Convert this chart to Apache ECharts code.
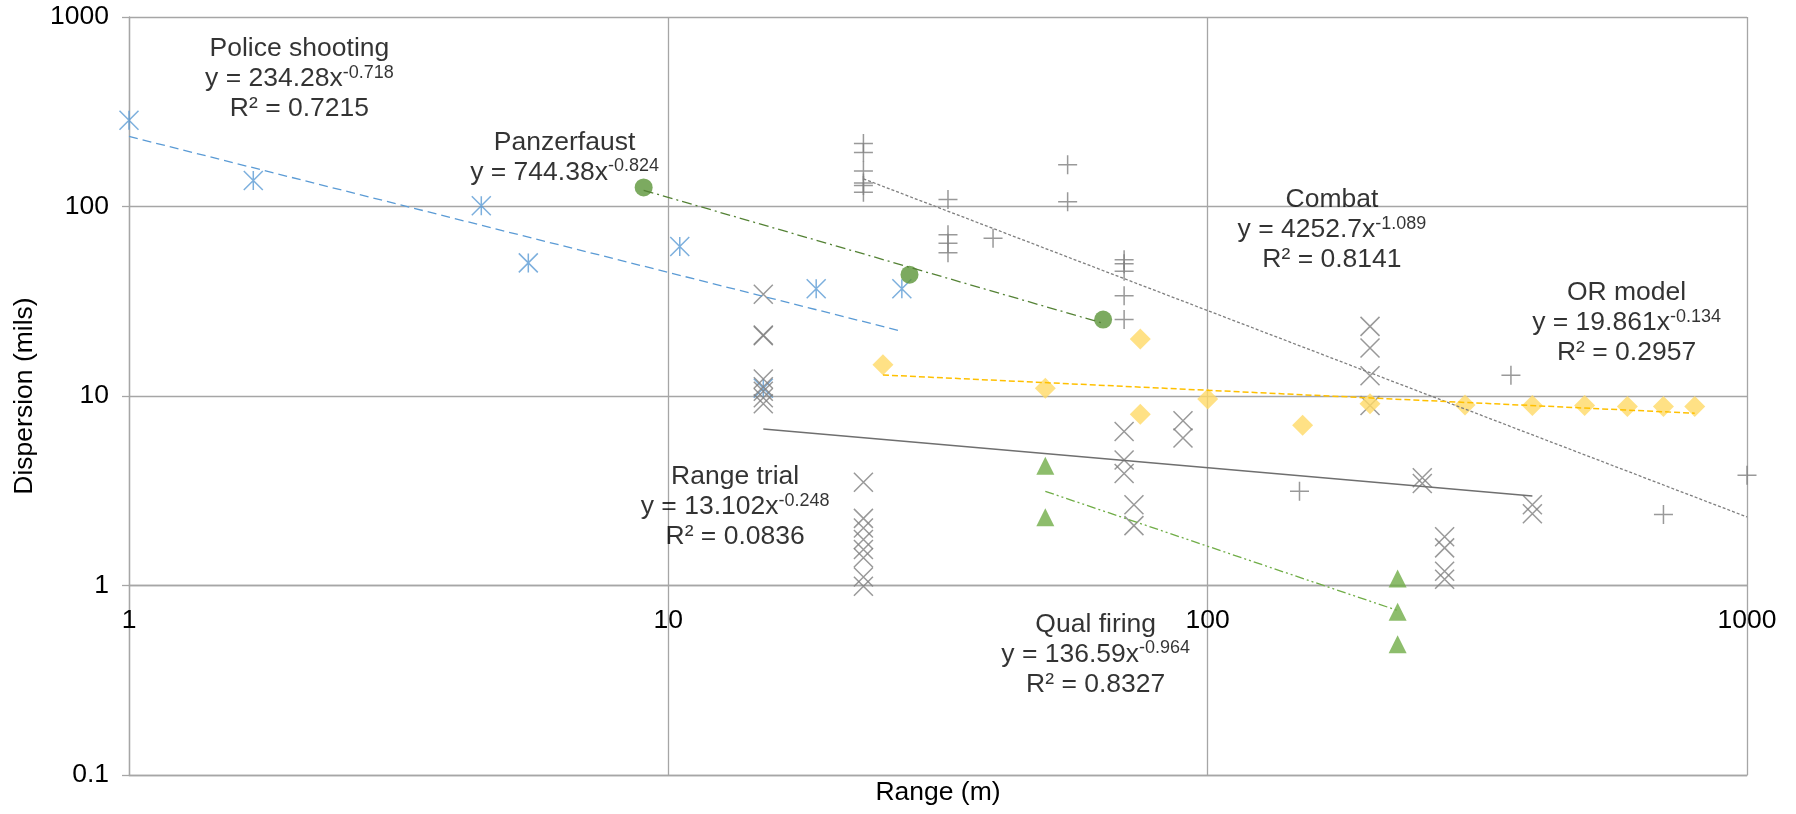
<!DOCTYPE html>
<html>
<head>
<meta charset="utf-8">
<title>Dispersion vs range</title>
<script src="https://cdn.jsdelivr.net/npm/echarts@6/dist/echarts.min.js"></script>
<style>
  html, body { margin: 0; padding: 0; background: #fff; }
  #chart { width: 1796px; height: 814px; }
</style>
</head>
<body>
<div id="chart"></div>
<script>
// tick labels
const xTicks = ['1', '10', '100', '1000'];
const yTicks = ['0.1', '1', '10', '100', '1000'];

// Police shooting
const policeX = [1, 1.7, 4.5, 5.5, 10.5, 15, 18.8, 27.1];
const policeY = [285, 137, 101, 50.4, 61.5, 11.0, 36.8, 36.8];
// Panzerfaust
const panzerX = [9.0, 28, 64];
const panzerY = [126, 43.7, 25.3];
// Combat
const combatX = [23, 23, 23, 23, 23, 23, 33, 33, 33, 33, 40, 55, 55, 70, 70, 70, 70, 70, 148, 365, 700, 1000];
const combatY = [215, 193, 154, 133, 129, 119, 109, 71, 64, 57, 68, 166, 106, 52.4, 49.9, 45.5, 33.8, 25.3, 3.14, 12.85, 2.37, 3.82];
// Range trial
const rangeX = [15, 15, 15, 15, 15, 15, 15, 15,
  23, 23, 23, 23, 23, 23, 23, 23,
  70, 70, 70, 73, 73, 90, 90,
  200, 200, 200, 200, 250, 250,
  275, 275, 275, 275, 400, 400];
const rangeY = [34.4, 20.8, 21.0, 12.3, 11.2, 10.6, 9.8, 9.1,
  3.51, 2.26, 2.01, 1.75, 1.55, 1.40, 1.11, 0.99,
  6.5, 4.6, 3.9, 2.67, 2.07, 7.4, 6.0,
  23.3, 17.9, 12.8, 8.9, 3.7, 3.45,
  1.81, 1.58, 1.19, 1.08, 2.67, 2.39];
// OR model
const orX = [25, 50, 75, 75, 100, 150, 200, 300, 400, 500, 600, 700, 800];
const orY = [14.6, 11.0, 20, 8.0, 9.64, 7.0, 9.1, 8.97, 8.9, 8.9, 8.8, 8.8, 8.8];
// Qual firing
const qualX = [50, 50, 225, 225, 225];
const qualY = [4.28, 2.29, 1.09, 0.727, 0.49];

// trendline end points (x, y) as drawn
const policeTrend = [[1, 234.3], [27.2, 21.9]];
const panzerTrend = [[9.0, 121.8], [64, 24.2]];
const combatTrend = [[23, 139.9], [1000, 2.30]];
const rangeTrend = [[15, 6.70], [400, 2.965]];
const orTrend = [[25, 12.91], [800, 8.11]];
const qualTrend = [[50, 3.14], [225, 0.738]];

// trendline labels
const annoNames = ['Police shooting', 'Panzerfaust', 'Combat', 'OR model', 'Range trial', 'Qual firing'];
const annoCoef = ['234.28', '744.38', '4252.7', '19.861', '13.102', '136.59'];
const annoExp = ['-0.718', '-0.824', '-1.089', '-0.134', '-0.248', '-0.964'];
const annoR2 = ['0.7215', '', '0.8141', '0.2957', '0.0836', '0.8327'];
const annoX = [2.07, 6.42, 170, 598, 13.3, 62];
const annoY = [470, 182, 75.4, 24.3, 2.6, 0.4325];

const FONT = '"Liberation Sans", Arial, sans-serif';
const FS = 26.5;
const GRID_COLOR = '#a6a6a6';
const ASTER = 'path://M0,0L20,20M20,0L0,20M10,0L10,20';
const CROSS = 'path://M0,0L20,20M20,0L0,20';
const PLUS = 'path://M10,0L10,20M0,10L20,10';

const zip = (xs, ys) => xs.map((x, i) => [x, ys[i]]);

const gridTop = 17, gridBottom = 39;
const decadePx = (814 - gridTop - gridBottom) / 4;

function scatter(name, xs, ys, symbol, size, itemStyle) {
  return {
    name, type: 'scatter', data: zip(xs, ys),
    symbol, symbolSize: size, itemStyle, z: 3
  };
}

function trend(name, pts, color, dash, width) {
  return {
    name: name + ' trend', type: 'line', data: pts,
    showSymbol: false, silent: true, z: 4,
    lineStyle: { color, width: width || 1.3, type: dash }
  };
}

const annoData = annoNames.map((n, i) => {
  let txt = '{t|' + n + '}\n{t|y = ' + annoCoef[i] + 'x}{s|' + annoExp[i] + '}';
  if (annoR2[i]) txt += '\n{t|R² = ' + annoR2[i] + '}';
  return { value: [annoX[i], annoY[i]], label: { formatter: txt } };
});

const chart = echarts.init(document.getElementById('chart'));
chart.setOption({
  animation: false,
  backgroundColor: '#fff',
  textStyle: { fontFamily: FONT },
  grid: { left: 129, right: 49, top: gridTop, bottom: gridBottom },
  xAxis: [{
    type: 'log', logBase: 10, min: 1, max: 1000,
    position: 'bottom', offset: -decadePx,
    axisLine: { show: true, lineStyle: { color: GRID_COLOR, width: 1.3 } },
    axisTick: { show: false },
    axisLabel: {
      margin: 22, color: '#000', fontSize: FS, fontFamily: FONT,
      formatter: v => xTicks[Math.round(Math.log10(v))]
    },
    splitLine: { show: true, lineStyle: { color: GRID_COLOR, width: 1.3 } }
  }, {
    type: 'log', logBase: 10, min: 1, max: 1000,
    position: 'bottom',
    name: 'Range (m)', nameLocation: 'middle', nameGap: 4,
    nameTextStyle: { color: '#000', fontSize: FS, fontFamily: FONT, verticalAlign: 'top' },
    axisLine: { show: true, lineStyle: { color: GRID_COLOR, width: 1.3 } },
    axisTick: { show: false }, axisLabel: { show: false }, splitLine: { show: false }
  }],
  yAxis: {
    type: 'log', logBase: 10, min: 0.1, max: 1000,
    name: 'Dispersion (mils)', nameLocation: 'middle', nameGap: 91,
    nameTextStyle: { color: '#000', fontSize: FS, fontFamily: FONT },
    axisLine: { show: true, lineStyle: { color: GRID_COLOR, width: 1.3 } },
    axisTick: { show: true, length: 7, lineStyle: { color: GRID_COLOR, width: 1.3 } },
    axisLabel: {
      margin: 20, color: '#000', fontSize: FS, fontFamily: FONT,
      formatter: v => yTicks[Math.round(Math.log10(v)) + 1]
    },
    splitLine: { show: true, lineStyle: { color: GRID_COLOR, width: 1.3 } }
  },
  series: [
    scatter('Police shooting', policeX, policeY, ASTER, 19,
      { color: 'transparent', borderColor: '#5b9bd5', borderWidth: 1.5 }),
    scatter('Combat', combatX, combatY, PLUS, 19,
      { color: 'transparent', borderColor: '#7f7f7f', borderWidth: 1.5 }),
    scatter('Range trial', rangeX, rangeY, CROSS, 19,
      { color: 'transparent', borderColor: '#7f7f7f', borderWidth: 1.5 }),
    scatter('Panzerfaust', panzerX, panzerY, 'circle', 18, { color: '#5b9538' }),
    scatter('OR model', orX, orY, 'diamond', 21, { color: '#ffd966' }),
    scatter('Qual firing', qualX, qualY, 'triangle', 18, { color: '#70ad47' }),
    trend('Police shooting', policeTrend, '#5b9bd5', [9, 5]),
    trend('Panzerfaust', panzerTrend, '#548235', [10, 4, 2, 4]),
    trend('Combat', combatTrend, '#7f7f7f', [3, 2]),
    trend('Range trial', rangeTrend, '#6f6f6f', 'solid', 1.5),
    trend('OR model', orTrend, '#ffc000', [6, 3], 1.5),
    trend('Qual firing', qualTrend, '#70ad47', [9, 3, 2, 3, 2, 3]),
    {
      name: 'labels', type: 'scatter', data: annoData,
      symbolSize: 0, silent: true, z: 6,
      label: {
        show: true, position: 'inside', align: 'center', verticalAlign: 'middle',
        color: '#000', fontFamily: FONT,
        rich: {
          t: { fontSize: FS, lineHeight: 30, color: '#000', fontFamily: FONT },
          s: { fontSize: 18, lineHeight: 30, verticalAlign: 'top', color: '#000', fontFamily: FONT }
        }
      }
    }
  ]
});
</script>
</body>
</html>
